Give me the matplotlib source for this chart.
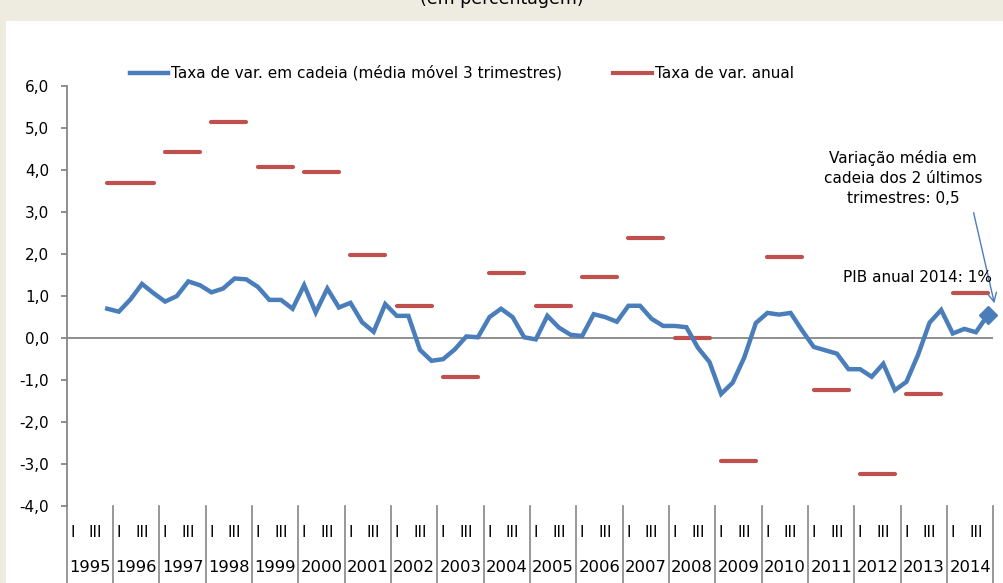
import matplotlib
matplotlib.use('Agg')
import matplotlib.pyplot as plt
import matplotlib.transforms as mtransforms
from matplotlib.patches import Rectangle
from matplotlib.lines import Line2D
import numpy as np

# ---------------- data ----------------
years = list(range(1995, 2015))
quarter_labels = ['I', '', 'III', '']
chain_start = (1995, 4)   # first quarter of the chain-rate series
chain_rate = [0.69, 0.62, 0.91, 1.28, 1.06, 0.86, 0.99, 1.34, 1.25, 1.08,
              1.17, 1.41, 1.39, 1.21, 0.90, 0.90, 0.69, 1.25, 0.60, 1.17,
              0.72, 0.83, 0.37, 0.14, 0.80, 0.52, 0.52, -0.29, -0.55, -0.51,
              -0.28, 0.03, 0.01, 0.49, 0.69, 0.49, 0.01, -0.04, 0.52, 0.24,
              0.07, 0.04, 0.56, 0.49, 0.38, 0.76, 0.76, 0.45, 0.28, 0.28,
              0.25, -0.24, -0.58, -1.34, -1.07, -0.47, 0.35, 0.59, 0.55, 0.59,
              0.17, -0.22, -0.30, -0.38, -0.75, -0.75, -0.93, -0.62, -1.25, -1.05,
              -0.41, 0.36, 0.66, 0.10, 0.21, 0.13, 0.53]
annual_years = list(range(1996, 2015))
annual_rate = [3.69, 4.41, 5.14, 4.07, 3.94, 1.97, 0.76, -0.93, 1.55, 0.76,
               1.45, 2.38, 0.00, -2.93, 1.93, -1.25, -3.25, -1.34, 1.07]
yticks = [-4, -3, -2, -1, 0, 1, 2, 3, 4, 5, 6]

legend_labels = ['Taxa de var. em cadeia (média móvel 3 trimestres)', 'Taxa de var. anual']
title = '(em percentagem)'
note_chain = 'Variação média em\ncadeia dos 2 últimos\ntrimestres: 0,5'
note_annual = 'PIB anual 2014: 1%'

# ---------------- style ----------------
BLUE = '#4A7EBB'
RED = '#C0504D'
GRAY = '#868686'
BEIGE = '#EEECE1'
FONT = 'DejaVu Sans'
FS = 11

W, H = 1004, 583
plt.rcParams['font.family'] = [FONT]
fig = plt.figure(figsize=(W / 100, H / 100), dpi=100)
fig.patch.set_facecolor(BEIGE)
fig.patches.append(Rectangle((6 / W, 0), 1, 1 - 21 / H, transform=fig.transFigure,
                             facecolor='white', edgecolor='none', zorder=-5))

ax_l, ax_r, ax_t, ax_b = 66.7, 993.3, 85.7, 505.7
ax = fig.add_axes([ax_l / W, (H - ax_b) / H, (ax_r - ax_l) / W, (ax_b - ax_t) / H])
ax.set_zorder(1)
ax.set_facecolor('none')
nq = len(years) * 4
ax.set_xlim(0, nq)
ax.set_ylim(-4, 6)

# quarterly index helper
def qidx(year, q):
    return (year - years[0]) * 4 + (q - 1)

# chain rate line
start = qidx(*chain_start)
xq = np.arange(len(chain_rate)) + start + 0.5
ax.plot(xq, chain_rate, color=BLUE, lw=3.2, solid_joinstyle='miter', zorder=3, clip_on=False)
ax.plot(xq[-1], chain_rate[-1], marker='D', ms=9, color=BLUE, zorder=4, clip_on=False)

# annual rate dashes (one per year, from Q1 to Q4; the first starts with the series)
for i, (yr, v) in enumerate(zip(annual_years, annual_rate)):
    x0 = qidx(yr, 1) + 0.5
    if i == 0:
        x0 = start + 0.5
    x1 = qidx(yr, 4) + 0.5
    ax.plot([x0, x1], [v, v], color=RED, lw=3.0, solid_capstyle='round', zorder=2)

# axes styling
ax.axhline(0, color=GRAY, lw=1.3, zorder=1)
for s in ['top', 'right', 'bottom']:
    ax.spines[s].set_visible(False)
ax.spines['left'].set_color(GRAY)
ax.spines['left'].set_linewidth(1.3)
ax.set_yticks(yticks)
ax.set_yticklabels([f'{v:.1f}'.replace('.', ',') for v in yticks])
ax.tick_params(axis='y', direction='out', length=4.5, width=1.3, color=GRAY,
               pad=8, labelsize=FS, labelcolor='black')
ax.set_xticks([])

# multi-level category axis
trans = mtransforms.blended_transform_factory(ax.transData, ax.transAxes)
bot = -(H - ax_b) / (ax_b - ax_t)
for b in range(0, nq + 1, 4):
    ax.plot([b, b], [0, bot - 0.01], transform=trans, color=GRAY, lw=1.2,
            clip_on=False, zorder=1)
yq = -(532.7 - ax_b) / (ax_b - ax_t)
yy = -(567.3 - ax_b) / (ax_b - ax_t)
for yr in years:
    for q, lab in enumerate(quarter_labels, start=1):
        if lab:
            ax.text(qidx(yr, q) + 0.5, yq, lab, transform=trans, ha='center',
                    va='center', fontsize=FS)
    ax.text(qidx(yr, 1) + 2, yy, str(yr), transform=trans, ha='center',
            va='center', fontsize=11.8)

# legend (manual)
def fp(x, y):
    return (x / W, 1 - y / H)

ly = 73
fig.add_artist(Line2D([130 / W, 168 / W], [1 - ly / H] * 2, color=BLUE, lw=3.2))
fig.text(*fp(171, ly), legend_labels[0], ha='left', va='center', fontsize=FS)
fig.add_artist(Line2D([613 / W, 652 / W], [1 - ly / H] * 2, color=RED, lw=3.0))
fig.text(*fp(655, ly), legend_labels[1], ha='left', va='center', fontsize=FS)

# title (cut at top, as in the source)
fig.text(*fp(502, -1), title, ha='center', va='center', fontsize=12.5)

# annotations
fig.text(*fp(903, 178), note_chain, ha='center', va='center', fontsize=FS,
         linespacing=1.45)
fig.text(*fp(918, 277), note_annual, ha='center', va='center', fontsize=FS)
ax.annotate('', xy=(995, H - 306), xycoords='figure pixels',
            xytext=(973, H - 210), textcoords='figure pixels',
            arrowprops=dict(arrowstyle='->', color=BLUE, lw=1.0, mutation_scale=16))

fig.savefig('out.png', dpi=100, facecolor=fig.get_facecolor())
